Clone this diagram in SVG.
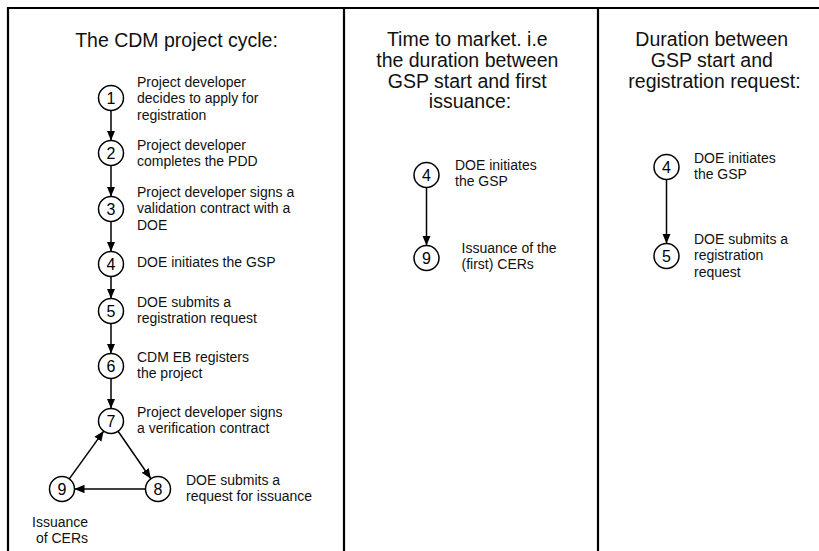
<svg xmlns="http://www.w3.org/2000/svg" width="819" height="551" viewBox="0 0 819 551">
  <style>
    .frame { stroke: #000; stroke-width: 2.2; fill: none; }
    .node circle { fill: #fff; stroke: #000; stroke-width: 1.5; }
    .num { font-family: "Liberation Sans", Arial, sans-serif; font-size: 16px; fill: #000; text-anchor: middle; }
    .lbl { font-family: "Liberation Sans", Arial, sans-serif; font-size: 14px; fill: #111; }
    .title { font-family: "Liberation Sans", Arial, sans-serif; font-size: 19.5px; fill: #111; text-anchor: middle; }
    .conn line { stroke: #000; stroke-width: 1.5; marker-end: url(#arrow); }
  </style>
  <defs>
    <marker id="arrow" markerUnits="userSpaceOnUse" markerWidth="10" markerHeight="10" refX="10" refY="5" orient="auto">
      <path d="M0,0.8 L10,5 L0,9.2 Z" fill="#000"/>
    </marker>
  </defs>

  <rect width="819" height="551" fill="#fff"/>

  <!-- panel frame -->
  <g id="frame">
    <line class="frame" x1="8" y1="8" x2="819" y2="8"/>
    <line class="frame" x1="8" y1="7" x2="8" y2="551"/>
    <line class="frame" x1="344" y1="8" x2="344" y2="551"/>
    <line class="frame" x1="598" y1="8" x2="598" y2="551"/>
  </g>

  <!-- panel titles -->
  <g id="titles">
    <text class="title" x="176.5" y="47">The CDM project cycle:</text>
    <text class="title" x="470" y="46">
      <tspan x="470">Time to market. i.e</tspan>
      <tspan x="470" dy="20.8">the duration between</tspan>
      <tspan x="470" dy="20.8">GSP start and first</tspan>
      <tspan x="470" dy="20.8">issuance:</tspan>
    </text>
    <text class="title" x="714.5" y="46">
      <tspan x="714.5">Duration between</tspan>
      <tspan x="714.5" dy="20.8">GSP start and</tspan>
      <tspan x="714.5" dy="20.8">registration request:</tspan>
    </text>
  </g>

  <!-- connectors -->
  <g id="connectors" class="conn">
    <line x1="111" y1="110.5" x2="111" y2="140.5"/>
    <line x1="111" y1="165.5" x2="111" y2="196.5"/>
    <line x1="111" y1="221.5" x2="111" y2="251.5"/>
    <line x1="111" y1="276.5" x2="111" y2="298.5"/>
    <line x1="111" y1="323.5" x2="111" y2="353.5"/>
    <line x1="111" y1="378.5" x2="111" y2="408.5"/>
    <line x1="118.1" y1="431.3" x2="150.9" y2="478.7"/>
    <line x1="145.5" y1="489" x2="74.5" y2="489"/>
    <line x1="69.3" y1="478.9" x2="103.7" y2="431.1"/>
    <line x1="426.5" y1="187.5" x2="426.5" y2="245.5"/>
    <line x1="666.5" y1="179.5" x2="666.5" y2="243.5"/>
  </g>

  <!-- CDM project cycle -->
  <g id="n1" class="node">
    <circle cx="111" cy="98" r="12.5"/>
    <text class="num" x="111" y="103.8">1</text>
    <text class="lbl" x="137" y="87">
      <tspan x="137">Project developer</tspan>
      <tspan x="137" dy="16.3">decides to apply for</tspan>
      <tspan x="137" dy="16.3">registration</tspan>
    </text>
  </g>
  <g id="n2" class="node">
    <circle cx="111" cy="153" r="12.5"/>
    <text class="num" x="111" y="158.8">2</text>
    <text class="lbl" x="137" y="150">
      <tspan x="137">Project developer</tspan>
      <tspan x="137" dy="16.3">completes the PDD</tspan>
    </text>
  </g>
  <g id="n3" class="node">
    <circle cx="111" cy="209" r="12.5"/>
    <text class="num" x="111" y="214.8">3</text>
    <text class="lbl" x="137" y="197">
      <tspan x="137">Project developer signs a</tspan>
      <tspan x="137" dy="16.3">validation contract with a</tspan>
      <tspan x="137" dy="16.3">DOE</tspan>
    </text>
  </g>
  <g id="n4" class="node">
    <circle cx="111" cy="264" r="12.5"/>
    <text class="num" x="111" y="269.8">4</text>
    <text class="lbl" x="137" y="267">DOE initiates the GSP</text>
  </g>
  <g id="n5" class="node">
    <circle cx="111" cy="311" r="12.5"/>
    <text class="num" x="111" y="316.8">5</text>
    <text class="lbl" x="137" y="306.5">
      <tspan x="137">DOE submits a</tspan>
      <tspan x="137" dy="16.3">registration request</tspan>
    </text>
  </g>
  <g id="n6" class="node">
    <circle cx="111" cy="366" r="12.5"/>
    <text class="num" x="111" y="371.8">6</text>
    <text class="lbl" x="137" y="361.5">
      <tspan x="137">CDM EB registers</tspan>
      <tspan x="137" dy="16.3">the project</tspan>
    </text>
  </g>
  <g id="n7" class="node">
    <circle cx="111" cy="421" r="12.5"/>
    <text class="num" x="111" y="426.8">7</text>
    <text class="lbl" x="137" y="416.5">
      <tspan x="137">Project developer signs</tspan>
      <tspan x="137" dy="16.3">a verification contract</tspan>
    </text>
  </g>
  <g id="n8" class="node">
    <circle cx="158" cy="489" r="12.5"/>
    <text class="num" x="158" y="494.8">8</text>
    <text class="lbl" x="186" y="485">
      <tspan x="186">DOE submits a</tspan>
      <tspan x="186" dy="16.3">request for issuance</tspan>
    </text>
  </g>
  <g id="n9" class="node">
    <circle cx="62" cy="489" r="12.5"/>
    <text class="num" x="62" y="494.8">9</text>
    <text class="lbl" text-anchor="middle" x="62" y="527">
      <tspan x="62">Issuance</tspan>
      <tspan x="62" dy="16.3">of CERs</tspan>
    </text>
  </g>

  <!-- time to market -->
  <g id="t4" class="node">
    <circle cx="426.5" cy="175" r="12.5"/>
    <text class="num" x="426.5" y="180.8">4</text>
    <text class="lbl" x="455" y="169.5">
      <tspan x="455">DOE initiates</tspan>
      <tspan x="455" dy="16.3">the GSP</tspan>
    </text>
  </g>
  <g id="t9" class="node">
    <circle cx="426.5" cy="258" r="12.5"/>
    <text class="num" x="426.5" y="263.8">9</text>
    <text class="lbl" x="461.5" y="253">
      <tspan x="461.5">Issuance of the</tspan>
      <tspan x="461.5" dy="16.3">(first) CERs</tspan>
    </text>
  </g>

  <!-- GSP start to registration request -->
  <g id="r4" class="node">
    <circle cx="666.5" cy="167" r="12.5"/>
    <text class="num" x="666.5" y="172.8">4</text>
    <text class="lbl" x="694" y="163">
      <tspan x="694">DOE initiates</tspan>
      <tspan x="694" dy="16.3">the GSP</tspan>
    </text>
  </g>
  <g id="r5" class="node">
    <circle cx="666.5" cy="256" r="12.5"/>
    <text class="num" x="666.5" y="261.8">5</text>
    <text class="lbl" x="694" y="244">
      <tspan x="694">DOE submits a</tspan>
      <tspan x="694" dy="16.3">registration</tspan>
      <tspan x="694" dy="16.3">request</tspan>
    </text>
  </g>
</svg>
